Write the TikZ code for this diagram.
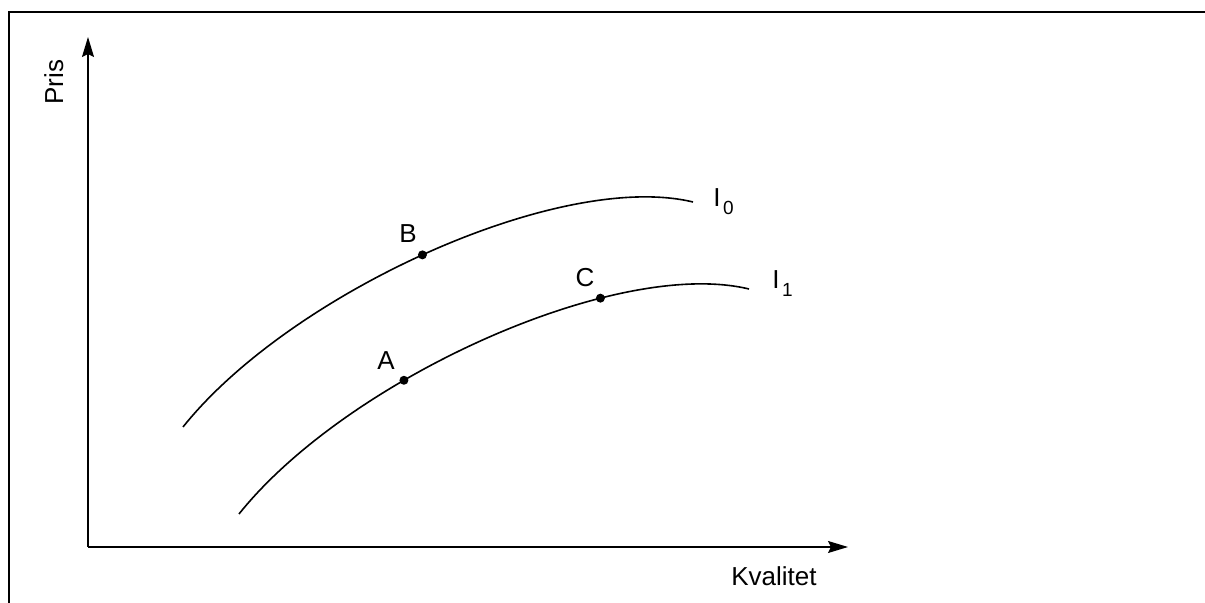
\documentclass[tikz,border=0pt]{standalone}
\usepackage{fontspec}
\setmainfont{Liberation Sans}
\usetikzlibrary{arrows.meta}
\tikzset{
  frameline/.style={line width=1.1pt},
  axisline/.style={line width=0.7pt,-{Stealth[length=10pt,width=6pt,inset=1.5pt]}},
  curveline/.style={line width=0.8pt},
  lbl/.style={inner sep=0pt,font=\fontsize{13}{15}\selectfont},
  dotmark/.style={circle,fill=black,inner sep=0pt,minimum size=4.5pt}
}
\newcommand{\subtxt}[2]{#1\hspace{1.2pt}\raisebox{-4pt}{\fontsize{9.5}{10}\selectfont #2}}
\begin{document}
\begin{tikzpicture}[x=0.5pt,y=-0.5pt]
\useasboundingbox (0,0) rectangle (1205,603);
% frame
\coordinate (fbl) at (9,603);
\coordinate (ftl) at (9,12);
\coordinate (ftr) at (1205,12);
\draw[frameline] (fbl) -- (ftl) -- (ftr);
% axes
\coordinate (O) at (88,547);
\coordinate (ytip) at (88,37);
\coordinate (xtip) at (848,547);
\draw[axisline] (O) -- (ytip);
\draw[axisline] (O) -- (xtip);
\node[lbl,rotate=90,anchor=base] (pris) at (63,82) {Pris};
\node[lbl,anchor=base] (kval) at (774,586) {Kvalitet};
% indifference curves
\coordinate (i0s) at (183,427);
\coordinate (i0e) at (693,202);
\coordinate (i1s) at (239,514);
\coordinate (i1e) at (749,289);
\draw[curveline] (i0s) .. controls (290,293) and (560,170) .. (i0e)
  node[pos=0.49,dotmark] (B) {};
\draw[curveline] (i1s) .. controls (346,380) and (616,257) .. (i1e)
  node[pos=0.36,dotmark] (A) {}
  node[pos=0.70,dotmark] (C) {};
\node[lbl,anchor=base] (Bl) at (408,243) {B};
\node[lbl,anchor=base] (Al) at (386,370) {A};
\node[lbl,anchor=base] (Cl) at (585,287) {C};
\node[lbl,anchor=base west] (I0) at (713,207) {\subtxt{I}{0}};
\node[lbl,anchor=base west] (I1) at (772,289) {\subtxt{I}{1}};
\end{tikzpicture}
\end{document}
